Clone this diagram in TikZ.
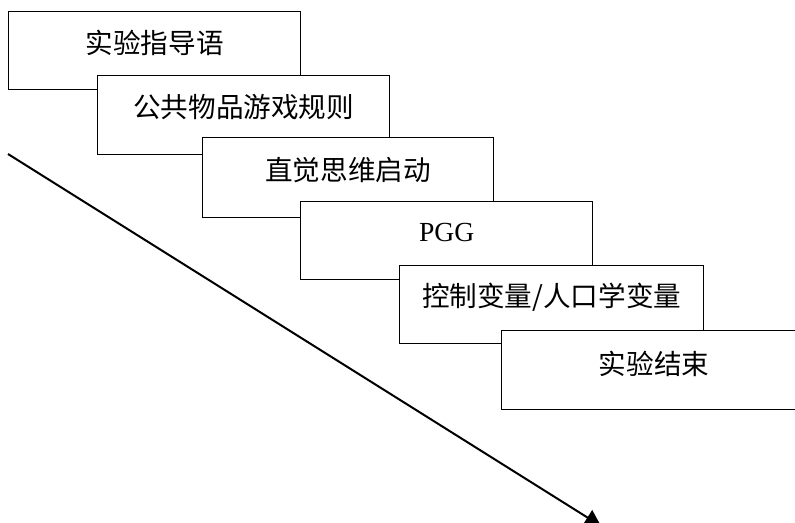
\documentclass[tikz,border=0pt]{standalone}
\usepackage{fontspec}
\newfontfamily\cjk{Noto Sans CJK SC}
\setmainfont{Liberation Serif}
\usetikzlibrary{arrows.meta}
\tikzset{
  stepbox/.style={draw=black, line width=0.95pt, fill=white, rectangle, inner sep=0pt, anchor=north west},
  boxtext/.style={inner sep=0pt, anchor=center, font=\fontsize{20.7}{24}\selectfont},
  flowarrow/.style={draw=black, line width=1.5pt, -{Triangle[length=12pt,width=13pt]}}
}
\begin{document}
\begin{tikzpicture}[x=0.75pt, y=-0.75pt]
\useasboundingbox (0,0) rectangle (795,522);
\begin{scope}
\clip (0,0) rectangle (795,522);
\coordinate (s) at (8,154);
\coordinate (e) at (601,526);
\draw[flowarrow] (s) -- (e);

\node[stepbox, minimum width=219pt, minimum height=58.5pt] (b1) at (8,11) {};
\node[boxtext] (t1) at ([yshift=-24pt]b1.north) {\cjk 实验指导语};

\node[stepbox, minimum width=219pt, minimum height=59.25pt] (b2) at (97,75) {};
\node[boxtext] (t2) at ([yshift=-24pt]b2.north) {\cjk 公共物品游戏规则};

\node[stepbox, minimum width=218.25pt, minimum height=60pt] (b3) at (202,137) {};
\node[boxtext] (t3) at ([yshift=-24.5pt]b3.north) {\cjk 直觉思维启动};

\node[stepbox, minimum width=219pt, minimum height=58.5pt] (b4) at (300,201) {};
\node[boxtext] (t4) at ([yshift=-23.5pt]b4.north) {PGG};

\node[stepbox, minimum width=228pt, minimum height=58.5pt] (b5) at (399,265) {};
\node[boxtext] (t5) at ([yshift=-24pt]b5.north) {\cjk 控制变量/人口学变量};

\node[stepbox, minimum width=228.75pt, minimum height=59.25pt] (b6) at (501,330) {};
\node[boxtext] (t6) at ([yshift=-25.5pt]b6.north) {\cjk 实验结束};
\end{scope}
\end{tikzpicture}
\end{document}
